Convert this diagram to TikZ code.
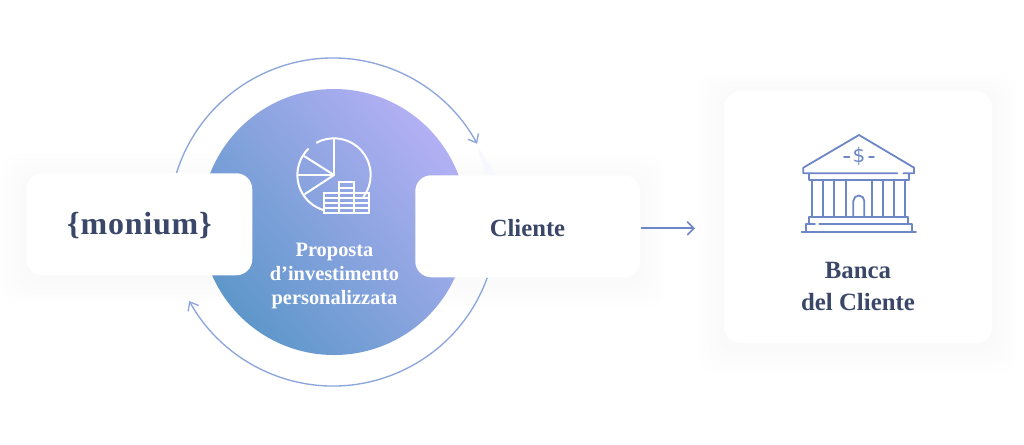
\documentclass[tikz,border=0pt]{standalone}
\usepackage{fontspec}
\setmainfont{Liberation Serif}
\newfontfamily\widefont[LetterSpace=2.5]{Liberation Serif}
\usetikzlibrary{arrows.meta}
\definecolor{ink}{HTML}{3A4768}
\definecolor{linkblue}{HTML}{8CA5DC}
\definecolor{iconblue}{HTML}{6C86C6}
\definecolor{gradlow}{HTML}{5E97CA}
\definecolor{gradhigh}{HTML}{B3B0F4}
\tikzset{
  card/.style={fill=white,rounded corners=12pt,inner sep=0pt,align=center,text=ink,font=\bfseries},
  loop/.style={draw=linkblue,line width=1pt,-{Straight Barb[length=5.5pt,width=9pt]}},
  hub/.style={circle,minimum size=199.5pt,inner sep=0pt,left color=gradhigh,right color=gradlow,shading angle=-50},
  pie/.style={draw=white,line width=1.5pt,line cap=round},
  bank/.style={draw=iconblue,line width=1.35pt,line cap=round,line join=round},
  haze/.style={fill=black,fill opacity=0.004,rounded corners=14pt},
}
\begin{document}
\begin{tikzpicture}[x=0.75pt,y=-0.75pt]
\useasboundingbox[fill=white] (0,0) rectangle (1024,444);
% shadows
\foreach \i in {1,...,5}{
  \fill[haze] (26-5*\i,173-5*\i+5) rectangle (252+5*\i,275+5*\i+5);
  \fill[haze] (415-5*\i,175-5*\i+5) rectangle (640+5*\i,277+5*\i+5);
  \fill[haze] (724-5*\i,91-5*\i+5) rectangle (992+5*\i,343+5*\i+5);
}
% hub
\node[hub] (hub) at (334,222) {};
\coordinate (c) at (333,222);
\fill[blue!3] (477,146) -- (497,176) -- (486,176) -- cycle;
% loops
\draw[loop] (c) ++(197.4:164) arc (197.4:331.5:164) coordinate (loopA);
\draw[loop] (c) ++(19.9:164) arc (19.9:151.2:164) coordinate (loopB);
% cards
\node[card,minimum width=169.5pt,minimum height=76.5pt,anchor=north west] (monium) at (26,173) {};
\node[text=ink,font=\widefont\bfseries\fontsize{24}{26}\selectfont,inner sep=0pt] (moniumlabel) at (139.5,226) {\{monium\}};
\node[card,minimum width=168.75pt,minimum height=76.5pt,anchor=north west] (cliente) at (415,175) {};
\node[text=ink,font=\bfseries\fontsize{18.5}{20}\selectfont,inner sep=0pt] (clientelabel) at (527.5,228) {Cliente};
\node[card,minimum width=201pt,minimum height=189pt,anchor=north west] (banca) at (724,91) {};
\node[text=ink,font=\bfseries\fontsize{18.6}{24}\selectfont,align=center] (bancalabel) at (858,286) {Banca\\del Cliente};
\node[text=white,font=\bfseries\fontsize{15.3}{18}\selectfont,align=center] (prop) at (334.5,276) {Proposta\\d’investimento\\personalizzata};
% connector
\draw[draw=iconblue,line width=1.2pt,-{Straight Barb[length=5pt,width=10pt]},shorten >=21.75pt] ([yshift=-1.5pt]cliente.east) -- ([yshift=-1.5pt]cliente.east -| banca.west);
% pie icon
\begin{scope}[shift={(280,120)},x=0.25pt,y=-0.25pt]
  \coordinate (pc) at (162,165);
  \draw[pie] (110,68) .. controls (126,59) and (144,55) .. (162,55);
  \draw[pie] (162,55) arc[start angle=-90,end angle=36,radius=110];
  \draw[pie] (130,270) arc[start angle=107,end angle=225,radius=110];
  \draw[pie] (pc) -- (162,55);
  \draw[pie] (pc) -- (72,108);
  \draw[pie] (pc) -- (55,165);
  \draw[pie] (pc) -- (75,222);
  % coins
  \draw[pie] (133,220) rectangle (267,278);
  \draw[pie] (177,186) rectangle (222,278);
  \foreach \yy in {203,234,249,264}{ \draw[pie] (177,\yy) -- (222,\yy); }
  \foreach \yy in {234,249,264}{ \draw[pie] (133,\yy) -- (267,\yy); }
\end{scope}
% bank icon
\begin{scope}[shift={(790,125)},x=0.25pt,y=-0.25pt]
  \draw[bank] (322,145) -- (40,145) -- (40,128) -- (207,30) -- (372,128) -- (372,145) -- (340,145);
  \draw[bank] (57,148) -- (57,165) -- (357,165) -- (357,148);
  \foreach \xx in {67,100,133,167,245,278,311,344}{ \draw[bank] (\xx,165) -- (\xx,275); }
  \draw[bank] (190,275) -- (190,228) arc[start angle=180,end angle=360,radius=16.5] -- (223,275);
  \draw[bank] (57,297) -- (57,275) -- (355,275) -- (355,297);
  \draw[bank] (48,320) -- (48,297) -- (75,297);
  \draw[bank] (88,297) -- (365,297) -- (365,320);
  \draw[bank] (35,320) -- (378,320);
  \draw[bank] (162,95) -- (178,95);
  \draw[bank] (237,95) -- (252,95);
  \node[text=iconblue,font=\fontspec{DejaVu Sans}\fontsize{15}{15}\selectfont,inner sep=0pt] (dollar) at (207,95) {\$};
\end{scope}
\end{tikzpicture}
\end{document}
